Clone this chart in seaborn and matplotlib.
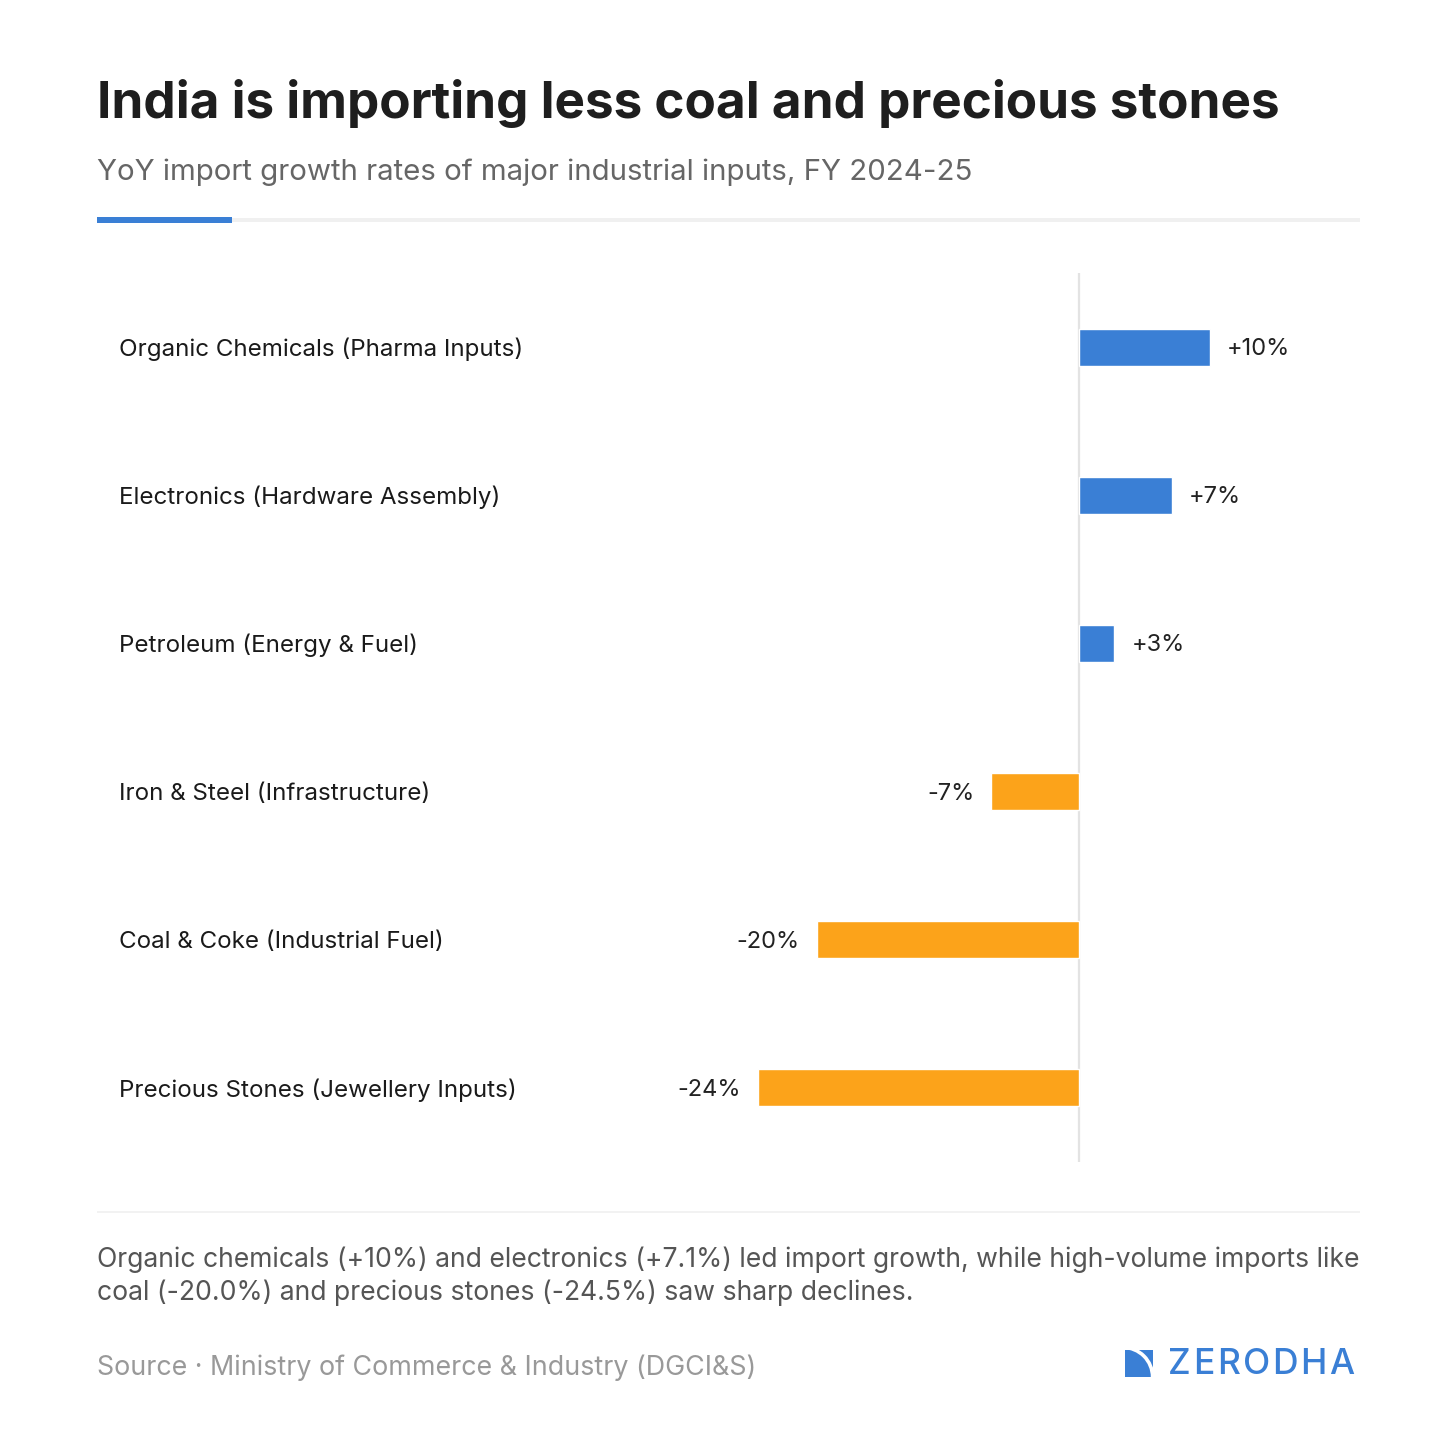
import matplotlib.pyplot as plt
import matplotlib.patches as mpatches
import matplotlib.transforms as mtransforms
import seaborn as sns
import pandas as pd

# YoY import growth, FY 2024-25 (%)
categories = [
    "Organic Chemicals (Pharma Inputs)",
    "Electronics (Hardware Assembly)",
    "Petroleum (Energy & Fuel)",
    "Iron & Steel (Infrastructure)",
    "Coal & Coke (Industrial Fuel)",
    "Precious Stones (Jewellery Inputs)",
]
growth = [10.0, 7.1, 2.7, -6.7, -20.0, -24.5]
value_labels = ["+10%", "+7%", "+3%", "-7%", "-20%", "-24%"]

BLUE = "#3a7fd5"
ORANGE = "#fca31a"

sns.set_theme(style="white")
plt.rcParams["font.family"] = ["Inter", "DejaVu Sans"]

df = pd.DataFrame({"category": categories, "growth": growth})
df["sign"] = ["up" if g >= 0 else "down" for g in growth]

W = H = 1456
fig = plt.figure(figsize=(14.56, 14.56), dpi=100)

def fx(px):
    return px / W

def fy(py):
    return 1 - py / H

# axes placed so zero sits at x=1079 px
ax_l, ax_r = 560, 1380
ax_t, ax_b = 273, 1162
ax = fig.add_axes([fx(ax_l), fy(ax_b), fx(ax_r - ax_l), (ax_b - ax_t) / H])

sns.barplot(data=df, x="growth", y="category", hue="sign",
            palette={"up": BLUE, "down": ORANGE}, orient="h",
            width=0.25, legend=False, ax=ax, saturation=1)

ppu = 13.1  # px per percentage point
ax.set_xlim((ax_l - 1079) / ppu, (ax_r - 1079) / ppu)
ax.set_ylim(len(categories) - 0.5, -0.5)
ax.axvline(0, color="#e3e3e3", lw=1.6, zorder=0)
ax.set_xticks([])
ax.set_yticks([])
ax.set_xlabel("")
ax.set_ylabel("")
for s in ax.spines.values():
    s.set_visible(False)

label_tf = mtransforms.blended_transform_factory(fig.transFigure, ax.transData)
nudge = mtransforms.ScaledTranslation(0, -2 / 100, fig.dpi_scale_trans)
for i, (v, lab) in enumerate(zip(growth, value_labels)):
    off = 1.3 if v >= 0 else -1.3
    ax.text(v + off, i, lab, ha="left" if v >= 0 else "right", va="center",
            fontsize=17, color="#222222", transform=ax.transData + nudge)
    ax.text(fx(119), i, categories[i], transform=label_tf + nudge,
            ha="left", va="center", fontsize=17.4, color="#1a1a1a")

# title block
fig.text(fx(97), fy(103), "India is importing less coal and precious stones",
         fontsize=36.9, fontweight="bold", color="#1e1e1e", va="center", ha="left")
fig.text(fx(97), fy(172), "YoY import growth rates of major industrial inputs, FY 2024-25",
         fontsize=21.2, color="#666666", va="center", ha="left")
fig.add_artist(mpatches.Rectangle((fx(97), fy(222)), fx(1360 - 97), 4 / H,
                                  transform=fig.transFigure, color="#f0f0f0", lw=0))
fig.add_artist(mpatches.Rectangle((fx(97), fy(223)), fx(232 - 97), 6 / H,
                                  transform=fig.transFigure, color=BLUE, lw=0))

# footer
fig.add_artist(mpatches.Rectangle((fx(97), fy(1213)), fx(1360 - 97), 2 / H,
                                  transform=fig.transFigure, color="#f2f2f2", lw=0))
fig.text(fx(97), fy(1260),
         "Organic chemicals (+10%) and electronics (+7.1%) led import growth, while high-volume imports like",
         fontsize=19.1, color="#555555", va="center", ha="left")
fig.text(fx(97), fy(1293),
         "coal (-20.0%) and precious stones (-24.5%) saw sharp declines.",
         fontsize=19.1, color="#555555", va="center", ha="left")
fig.text(fx(97), fy(1368), "Source · Ministry of Commerce & Industry (DGCI&S)",
         fontsize=19.3, color="#999999", va="center", ha="left")

# logo: blue square with a white arc
fig.add_artist(mpatches.Rectangle((fx(1125), fy(1377)), 28 / W, 27 / H,
                                  transform=fig.transFigure, color=BLUE, lw=0))
fig.add_artist(mpatches.Arc((fx(1123), fy(1377)), 2 * 29.6 / W, 2 * 29.6 / H,
                            theta1=0, theta2=90, transform=fig.transFigure,
                            color="white", lw=2.6))

# wordmark, letters spaced out a little
renderer = fig.canvas.get_renderer()
x = 1168
for ch in "ZERODHA":
    t = fig.text(fx(x), fy(1364), ch, fontsize=25.5, fontweight="medium",
                 color=BLUE, va="center", ha="left")
    x += t.get_window_extent(renderer).width + 2.6

fig.savefig("out.png", dpi=100, facecolor="white")
